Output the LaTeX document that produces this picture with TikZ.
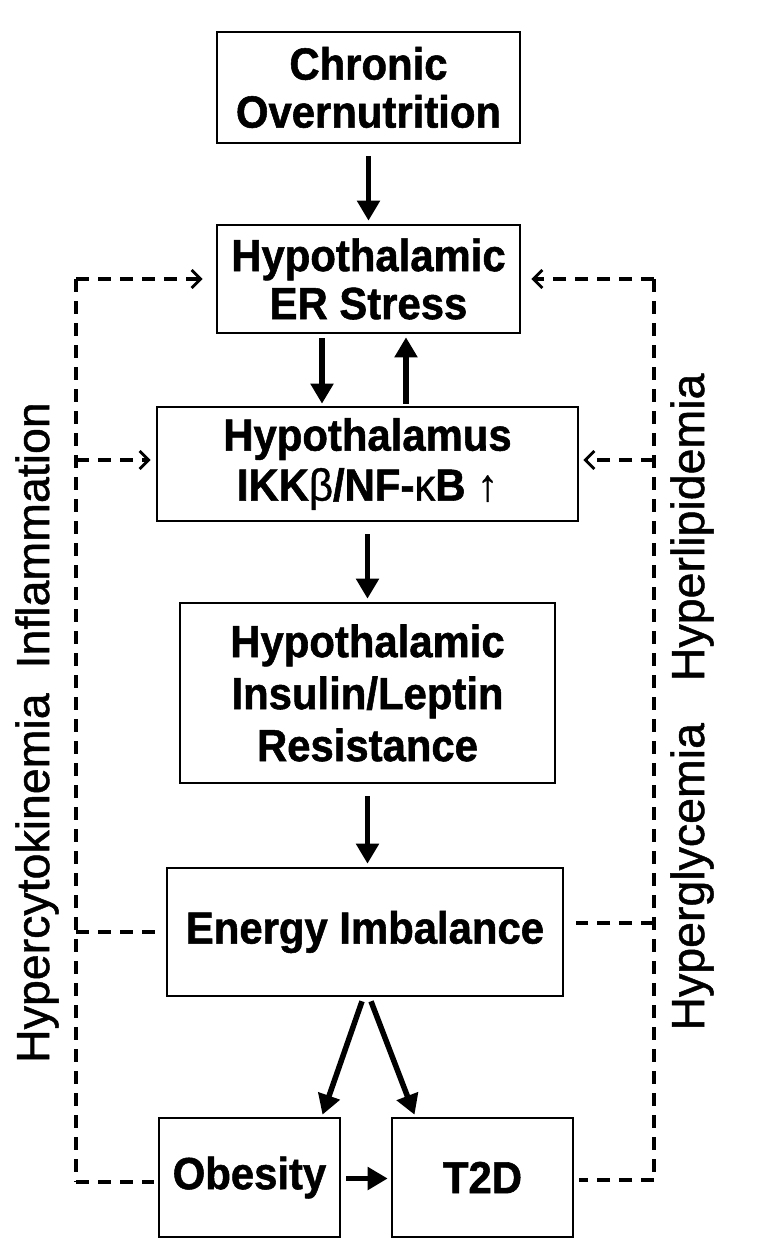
\documentclass[tikz,border=0pt]{standalone}
\usepackage{fontspec}
\setmainfont{Liberation Sans}
\newfontfamily\BoxFnt{Liberation Sans Bold}[FakeBold=1.2,FakeStretch=0.93]
\newfontfamily\ThinFnt{Liberation Sans}[FakeBold=0.8,FakeStretch=0.93]
\newfontfamily\SideFnt{Liberation Sans}[FakeBold=1.0]
\usetikzlibrary{arrows.meta,calc}
\begin{document}
\begin{tikzpicture}[x=1pt,y=-1pt,
  box/.style={draw,line width=2.6pt,inner sep=0pt,align=center,
    font=\BoxFnt\fontsize{45}{48}\selectfont},
  arr/.style={line width=5.5pt,-{Triangle[length=20pt,width=22pt]}},
  dsh/.style={line width=3.2pt,dash pattern=on 13pt off 9pt},
  darr/.style={dsh,-{Straight Barb[length=9pt,width=18pt,line width=2.8pt]}},
  side/.style={rotate=90,font=\SideFnt\fontsize{46.5}{46.5}\selectfont,inner sep=0pt}]
\useasboundingbox (0,0) rectangle (759,1257);
% boxes
\node[box,minimum width=303pt,minimum height=111pt] (chronic) at (368.5,87.5) {Chronic\\Overnutrition};
\node[box,minimum width=303pt,minimum height=108pt] (er) at (368.5,279) {Hypothalamic\\ER Stress};
\node[box,minimum width=421pt,minimum height=114pt,font=\BoxFnt\fontsize{45}{50}\selectfont] (ikk) at (367.5,464) {Hypothalamus\\IKK{\ThinFnt β}/NF-{\ThinFnt κ}B {\ThinFnt ↑}};
\node[box,minimum width=375pt,minimum height=180pt,font=\BoxFnt\fontsize{45}{52}\selectfont] (ins) at (367.5,693) {Hypothalamic\\Insulin/Leptin\\Resistance};
\node[box,minimum width=396pt,minimum height=128pt] (energy) at (365,932) {Energy Imbalance};
\node[box,minimum width=181pt,minimum height=119pt] (obesity) at (249.5,1177.5) {\raisebox{-8pt}{Obesity}};
\node[box,minimum width=181pt,minimum height=119pt] (t2d) at (482.5,1177.5) {\raisebox{-8pt}{T2D}};
% solid arrows
\draw[arr] ([yshift=-12pt]chronic.south) -- ([yshift=3pt]er.north);
\draw[arr] ([xshift=-46.5pt,yshift=-4pt]er.south) -- ([xshift=-45.5pt,yshift=2pt]ikk.north);
\draw[arr] ([xshift=38.5pt,yshift=2pt]ikk.north) -- ([xshift=37.5pt,yshift=-3pt]er.south);
\draw[arr] ([yshift=-12pt]ikk.south) -- ([yshift=3pt]ins.north);
\draw[arr] ([yshift=-12pt]ins.south) -- ([yshift=3pt]ins.south |- energy.north);
\draw[arr] ([xshift=-3pt,yshift=-4pt]energy.south) -- ([xshift=73pt,yshift=2pt]obesity.north);
\draw[arr] ([xshift=6pt,yshift=-4pt]energy.south) -- ([xshift=-68pt,yshift=2pt]t2d.north);
\draw[arr] ([xshift=5pt,yshift=-1pt]obesity.east) -- ([xshift=-3pt,yshift=-1pt]t2d.west);
% dashed rails
\coordinate (lt) at (76,279);
\coordinate (lb) at (76,1182);
\coordinate (rt) at (654,279);
\coordinate (rb) at (654,1180);
\draw[dsh] (lt) -- (lb);
\draw[dsh] (rt) -- (rb);
\draw[darr] (lt) -- ([xshift=-13pt]er.west);
\draw[darr] (lt |- 0,460) -- ([xshift=-5pt,yshift=4pt]ikk.west);
\draw[darr] (rt) -- ([xshift=10pt]er.east);
\draw[darr] (rt |- 0,460) -- ([xshift=4pt,yshift=4pt]ikk.east);
\draw[dsh] (lt |- energy.west) -- ([xshift=-10pt]energy.west);
\draw[dsh] (rt |- 0,923) -- ([xshift=12pt,yshift=9pt]energy.east);
\draw[dsh] (lb) -- ([xshift=-4pt,yshift=-4.5pt]obesity.west);
\draw[dsh] (rb) -- ([xshift=5pt,yshift=-2.5pt]t2d.east);
% side labels
\node[side] (left) at (37,732.5) {Hypercytokinemia\hspace{25pt}Inflammation};
\node[side] (right) at (692,702) {Hyperglycemia\hspace{42pt}Hyperlipidemia};
\end{tikzpicture}
\end{document}
